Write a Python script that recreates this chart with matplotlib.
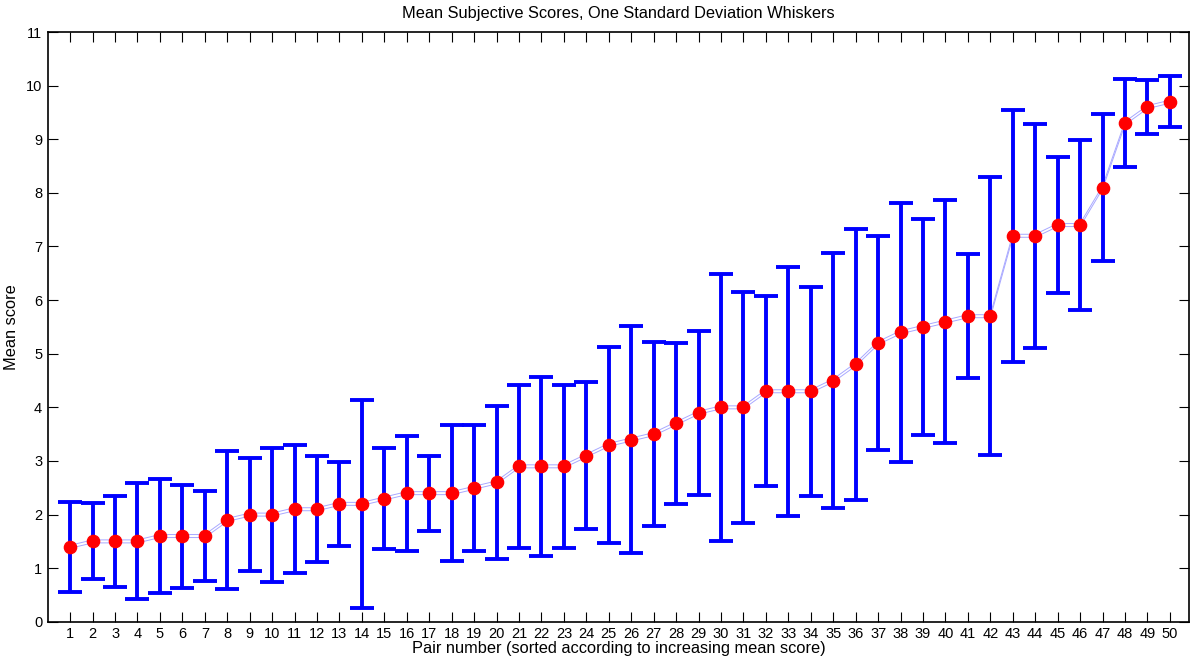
import numpy as np
import matplotlib
matplotlib.use('Agg')
import matplotlib.pyplot as plt
from matplotlib.transforms import offset_copy

plt.rcParams['font.family'] = ['Liberation Sans', 'DejaVu Sans']

pairs = np.arange(1, 51)
mean_score = [1.4, 1.5, 1.5, 1.5, 1.6, 1.6, 1.6, 1.9, 2.0, 2.0,
              2.1, 2.1, 2.2, 2.2, 2.3, 2.4, 2.4, 2.4, 2.5, 2.6,
              2.9, 2.9, 2.9, 3.1, 3.3, 3.4, 3.5, 3.7, 3.9, 4.0,
              4.0, 4.3, 4.3, 4.3, 4.5, 4.8, 5.2, 5.4, 5.5, 5.6,
              5.7, 5.7, 7.2, 7.2, 7.4, 7.4, 8.1, 9.3, 9.6, 9.7]
std_score = [0.84, 0.71, 0.85, 1.08, 1.07, 0.96, 0.84, 1.29, 1.05, 1.25,
             1.19, 0.99, 0.78, 1.94, 0.95, 1.07, 0.70, 1.27, 1.18, 1.43,
             1.52, 1.67, 1.52, 1.37, 1.83, 2.11, 1.72, 1.50, 1.53, 2.49,
             2.15, 1.77, 2.32, 1.95, 2.37, 2.53, 1.99, 2.41, 2.01, 2.27,
             1.16, 2.59, 2.35, 2.09, 1.27, 1.58, 1.37, 0.82, 0.51, 0.48]

fig = plt.figure(figsize=(11.9, 6.63), dpi=100)
ax = fig.add_axes([0.0401, 0.0621, 0.959, 0.8896])

# thin double connecting line
for dy in (-1.5, 1.5):
    tr = offset_copy(ax.transData, fig=fig, x=0, y=dy, units='dots')
    ax.plot(pairs, mean_score, color='#a8a8ff', lw=0.7, transform=tr, zorder=1)

ax.errorbar(pairs, mean_score, yerr=std_score, fmt='none', ecolor='#0000ff',
            elinewidth=2.8, capsize=8.3, capthick=2.8, zorder=2)
ax.plot(pairs, mean_score, 'o', color='red', markersize=8.8, mec='red', zorder=3)

ax.set_xlim(0, 50.85)
ax.set_ylim(0, 11)
ax.set_xticks(pairs)
ax.set_yticks(range(0, 12))
ax.tick_params(direction='in', length=7, width=0.8, top=True, right=True,
               labelsize=10.5, colors='black', pad=4)
for s in ax.spines.values():
    s.set_linewidth(1.2)

ax.set_title('Mean Subjective Scores, One Standard Deviation Whiskers', fontsize=11.8, pad=10)
ax.set_xlabel('Pair number (sorted according to increasing mean score)', fontsize=11.8, labelpad=0)
ax.set_ylabel('Mean score', fontsize=11.8, labelpad=5)

fig.savefig('out.png', dpi=100)
plt.close()
